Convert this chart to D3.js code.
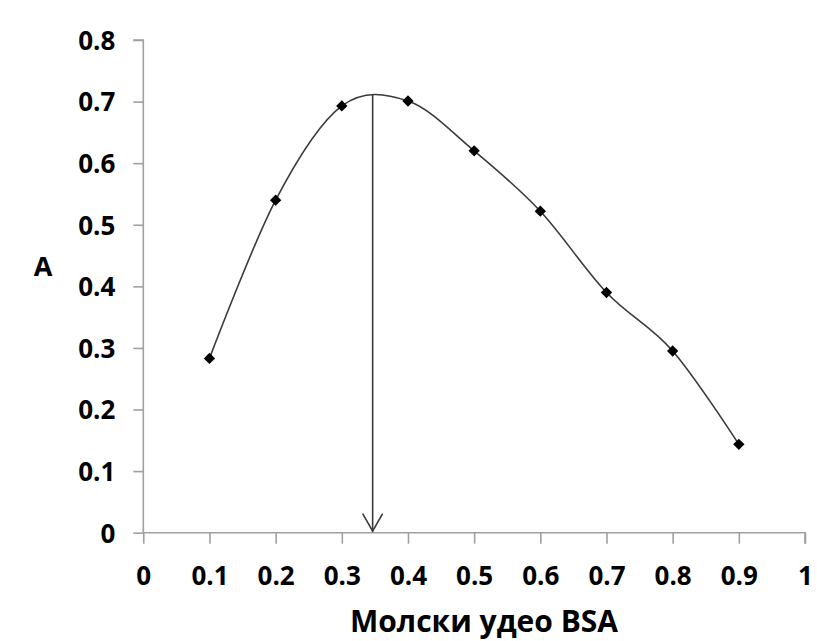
<!DOCTYPE html>
<html><head><meta charset="utf-8">
<script src="https://cdn.jsdelivr.net/npm/d3@7"></script>
<style>body{margin:0;background:#fff}svg{display:block}</style>
</head><body>
<script>
const xValues = [0.1, 0.2, 0.3, 0.4, 0.5, 0.6, 0.7, 0.8, 0.9];
const yValues = [0.283, 0.540, 0.693, 0.701, 0.620, 0.522, 0.390, 0.295, 0.1435];
const xTicks = [0, 0.1, 0.2, 0.3, 0.4, 0.5, 0.6, 0.7, 0.8, 0.9, 1];
const yTicks = [0, 0.1, 0.2, 0.3, 0.4, 0.5, 0.6, 0.7, 0.8];
const arrowX = 0.3466;
const xTitle = "Молски удео BSA";
const yTitle = "A";

const W = 817, H = 641;
const svg = d3.select("body").append("svg").attr("width", W).attr("height", H);
const x = d3.scaleLinear().domain([0, 1]).range([143.3, 805]);
const y = d3.scaleLinear().domain([0, 0.8]).range([532.7, 40]);
const font = "'Open Sans', sans-serif";
const axisColor = "#a0a0a0";
const lineColor = "#3a3a3a";

// axes
const yAxis = d3.axisLeft(y).tickValues(yTicks).tickSize(10).tickFormat(d3.format("~g"));
const xAxis = d3.axisBottom(x).tickValues(xTicks).tickSize(11).tickFormat(d3.format("~g"));
const gy = svg.append("g").attr("transform", `translate(${x(0)},0)`).call(yAxis);
const gx = svg.append("g").attr("transform", `translate(0,${y(0)})`).call(xAxis);
[gx, gy].forEach(g => {
  g.select(".domain").attr("stroke", axisColor).attr("stroke-width", 1.6);
  g.selectAll(".tick line").attr("stroke", axisColor).attr("stroke-width", 1.6);
  g.selectAll(".tick text").attr("fill", "#000").attr("font-family", font)
    .attr("font-weight", "bold").attr("font-size", "26px");
});
gy.select(".domain").attr("d", `M-10,${y(0.8)}H0V${y(0)}`);
gx.select(".domain").attr("d", `M${x(0)},0H${x(1)}V11`);
gy.selectAll(".tick text").attr("x", -28).attr("dy", "0.36em");
gx.selectAll(".tick text").attr("y", 52).attr("dy", "0");

// smoothed line through the points
const pts = xValues.map((d, i) => [d, yValues[i]]);
const curvePath = svg.append("path").datum(pts)
  .attr("d", d3.line().x(d => x(d[0])).y(d => y(d[1])).curve(d3.curveCatmullRom.alpha(0)))
  .attr("fill", "none").attr("stroke", lineColor).attr("stroke-width", 1.6);

// arrow from the curve down to the x axis
const node = curvePath.node();
const L = node.getTotalLength();
let topY = y(0.71), best = Infinity;
for (let s = 0; s <= L; s += 0.5) {
  const p = node.getPointAtLength(s);
  const dd = Math.abs(p.x - x(arrowX));
  if (dd < best) { best = dd; topY = p.y; }
}
const ax = x(arrowX);
svg.append("line").attr("x1", ax).attr("x2", ax)
  .attr("y1", topY).attr("y2", y(0) - 1)
  .attr("stroke", lineColor).attr("stroke-width", 1.6);
svg.append("path")
  .attr("d", `M${ax - 10},${y(0) - 19}L${ax},${y(0) - 1.5}L${ax + 10},${y(0) - 19}`)
  .attr("fill", "none").attr("stroke", lineColor).attr("stroke-width", 1.6);

// markers
svg.append("g").selectAll("path").data(pts).join("path")
  .attr("d", d3.symbol(d3.symbolSquare, 64))
  .attr("transform", d => `translate(${x(d[0])},${y(d[1])}) rotate(45)`)
  .attr("fill", "#000");

// titles
svg.append("text").attr("x", 484).attr("y", 632).attr("text-anchor", "middle")
  .attr("font-family", font).attr("font-weight", "bold").attr("font-size", "30px").text(xTitle);
svg.append("text").attr("x", 43).attr("y", 276).attr("text-anchor", "middle")
  .attr("font-family", font).attr("font-weight", "bold").attr("font-size", "27px").text(yTitle);
</script>
</body></html>
